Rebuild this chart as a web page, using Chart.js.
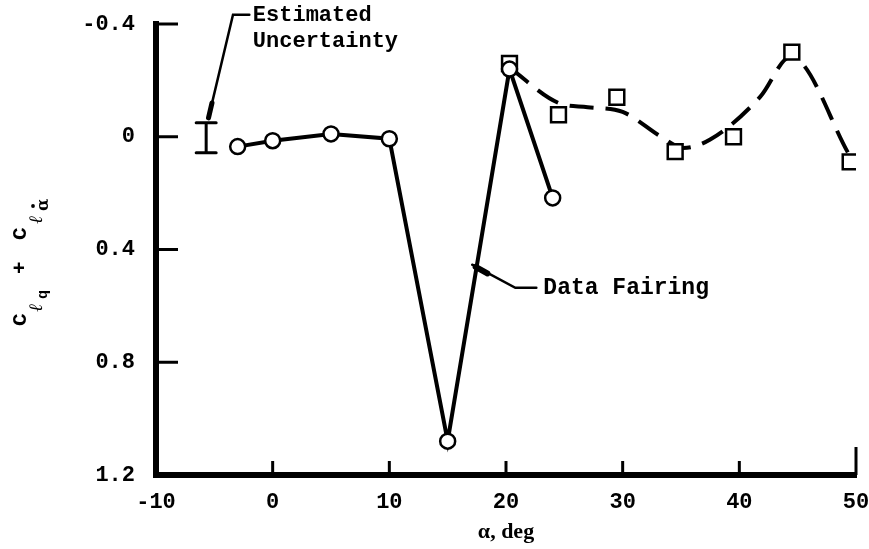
<!DOCTYPE html>
<html>
<head>
<meta charset="utf-8">
<script src="https://cdn.jsdelivr.net/npm/chart.js@4"></script>
<style>
  html, body { margin: 0; padding: 0; background: #fff; }
  #wrap { width: 869px; height: 549px; }
</style>
</head>
<body>
<div id="wrap"><canvas id="chart"></canvas></div>
<script>
// circles: measured points, joined by the solid "data fairing"
const circleAlpha = [-3, 0, 5, 10, 15, 20.3, 24]
const circleCoef = [0.035, 0.014, -0.01, 0.007, 1.08, -0.24, 0.217]

// squares: second set of points
const squareAlpha = [20.3, 24.5, 29.5, 34.5, 39.5, 44.5, 49.5]
const squareCoef = [-0.26, -0.078, -0.14, 0.053, 0.0, -0.3, 0.089]

// dashed fairing through the squares
const fairAlpha = [20.3, 24.5, 27, 30, 33.3, 35.2, 37.5, 41.8, 44.4, 49.5]
const fairCoef = [-0.245, -0.12, -0.105, -0.088, 0.0, 0.04, 0.01, -0.142, -0.284, 0.07]

const xTicks = [-10, 0, 10, 20, 30, 40, 50]
const yTicks = [-0.4, 0, 0.4, 0.8, 1.2]
const yTickLabels = ['-0.4', '0', '0.4', '0.8', '1.2']

// estimated uncertainty bar (alpha, low, high)
const errAlpha = -5.7
const errRange = [-0.05, 0.057]

const pts = (xs, ys) => xs.map((x, i) => ({ x, y: ys[i] }))

const mono = '"Liberation Mono", "DejaVu Sans Mono", monospace'

const inwardTicks = {
  id: 'inwardTicks',
  afterDraw(chart) {
    const { ctx, chartArea: a, scales } = chart
    ctx.save()
    ctx.strokeStyle = '#000'
    ctx.lineWidth = 3
    yTicks.forEach((v) => {
      const py = scales.y.getPixelForValue(v)
      ctx.beginPath()
      ctx.moveTo(a.left, py)
      ctx.lineTo(a.left + 22, py)
      ctx.stroke()
    })
    xTicks.forEach((v, i) => {
      const px = scales.x.getPixelForValue(v)
      const len = i === xTicks.length - 1 ? 28 : 14
      ctx.beginPath()
      ctx.moveTo(px, a.bottom)
      ctx.lineTo(px, a.bottom - len)
      ctx.stroke()
    })
    ctx.restore()
  },
}

const notes = {
  id: 'notes',
  afterDraw(chart) {
    const { ctx, scales } = chart
    const X = (v) => scales.x.getPixelForValue(v)
    const Y = (v) => scales.y.getPixelForValue(v)
    ctx.save()
    ctx.strokeStyle = '#000'
    ctx.fillStyle = '#000'
    ctx.lineCap = 'round'

    // uncertainty bar
    ctx.lineWidth = 3
    const ex = X(errAlpha)
    ctx.beginPath()
    ctx.moveTo(ex, Y(errRange[0]))
    ctx.lineTo(ex, Y(errRange[1]))
    ctx.moveTo(ex - 10, Y(errRange[0]))
    ctx.lineTo(ex + 10, Y(errRange[0]))
    ctx.moveTo(ex - 10, Y(errRange[1]))
    ctx.lineTo(ex + 10, Y(errRange[1]))
    ctx.stroke()

    // leader to "Estimated Uncertainty"
    ctx.lineWidth = 2.5
    ctx.beginPath()
    ctx.moveTo(X(-2.0), Y(-0.433))
    ctx.lineTo(X(-3.4), Y(-0.433))
    ctx.lineTo(X(-5.5), Y(-0.067))
    ctx.stroke()
    ctx.lineWidth = 5
    ctx.beginPath()
    ctx.moveTo(X(-5.2), Y(-0.12))
    ctx.lineTo(X(-5.5), Y(-0.067))
    ctx.stroke()

    // leader to "Data Fairing"
    ctx.lineWidth = 2.5
    ctx.beginPath()
    ctx.moveTo(X(17.1), Y(0.454))
    ctx.lineTo(X(20.8), Y(0.536))
    ctx.lineTo(X(22.6), Y(0.536))
    ctx.stroke()
    ctx.lineWidth = 6
    ctx.beginPath()
    ctx.moveTo(X(17.4), Y(0.462))
    ctx.lineTo(X(18.4), Y(0.485))
    ctx.stroke()

    ctx.textBaseline = 'middle'
    ctx.textAlign = 'left'
    ctx.font = 'bold 22px ' + mono
    ctx.fillText('Estimated', X(-1.7), Y(-0.43))
    ctx.fillText('Uncertainty', X(-1.7), Y(-0.337))
    ctx.font = 'bold 23px ' + mono
    ctx.fillText('Data Fairing', X(23.2), Y(0.536))

    // y axis title, rotated
    ctx.translate(26, 326)
    ctx.rotate(-Math.PI / 2)
    ctx.textBaseline = 'alphabetic'
    const put = (t, font, x, dy) => {
      ctx.font = font
      ctx.fillText(t, x, dy)
    }
    const big = 'bold 21px ' + mono
    const sub = 'italic 19px "DejaVu Serif", serif'
    const sub2 = 'bold 15px ' + mono
    put('C', big, 0, 0)
    put('ℓ', sub, 14, 16)
    put('q', sub2, 27, 21)
    put('+', big, 52, 0)
    put('C', big, 86, 0)
    put('ℓ', sub, 102, 16)
    put('α', 'bold 16px "DejaVu Serif", serif', 115, 22)
    ctx.beginPath()
    ctx.arc(120, 7, 1.9, 0, Math.PI * 2)
    ctx.fill()
    ctx.restore()
  },
}

new Chart(document.getElementById('chart'), {
  type: 'line',
  data: {
    datasets: [
      {
        label: 'circles',
        data: pts(circleAlpha, circleCoef),
        borderColor: '#000',
        borderWidth: 4,
        tension: 0,
        pointStyle: 'circle',
        pointRadius: 7.5,
        pointBorderWidth: 2.5,
        pointBackgroundColor: '#fff',
        pointBorderColor: '#000',
        order: 1,
      },
      {
        label: 'squares',
        data: pts(squareAlpha, squareCoef),
        showLine: false,
        pointStyle: 'rect',
        pointRadius: 10.5,
        pointBorderWidth: 2.5,
        pointBackgroundColor: '#fff',
        pointBorderColor: '#000',
        order: 2,
      },
      {
        label: 'fairing',
        data: pts(fairAlpha, fairCoef),
        borderColor: '#000',
        borderWidth: 4,
        borderDash: [24, 12],
        cubicInterpolationMode: 'monotone',
        pointRadius: 0,
        order: 3,
      },
    ],
  },
  options: {
    responsive: true,
    maintainAspectRatio: false,
    animation: false,
    layout: { padding: { top: 24, right: 11, left: 0, bottom: 0 } },
    plugins: {
      legend: { display: false },
      tooltip: { enabled: false },
    },
    scales: {
      x: {
        type: 'linear',
        min: -10,
        max: 50,
        afterBuildTicks: (s) => { s.ticks = xTicks.map((v) => ({ value: v })) },
        afterFit: (s) => { s.height = 74; s.paddingLeft = 0; s.paddingRight = 0 },
        grid: { display: false, drawTicks: false },
        border: { display: true, color: '#000', width: 6 },
        ticks: {
          color: '#000',
          padding: 14,
          maxRotation: 0,
          autoSkip: false,
          font: { family: mono, size: 22, weight: 'bold' },
        },
        title: {
          display: true,
          text: 'α, deg',
          color: '#000',
          padding: { top: 0, bottom: 3 },
          font: { family: '"Liberation Serif", serif', size: 22, weight: 'bold' },
        },
      },
      y: {
        type: 'linear',
        reverse: true,
        min: -0.4,
        max: 1.2,
        afterBuildTicks: (s) => { s.ticks = yTicks.map((v) => ({ value: v })) },
        afterFit: (s) => { s.width = 156; s.paddingTop = 0; s.paddingBottom = 0 },
        grid: { display: false, drawTicks: false },
        border: { display: true, color: '#000', width: 6 },
        ticks: {
          color: '#000',
          padding: 21,
          callback: (v) => yTickLabels[yTicks.indexOf(v)] ?? '',
          font: { family: mono, size: 22, weight: 'bold' },
        },
      },
    },
  },
  plugins: [inwardTicks, notes],
})
</script>
</body>
</html>
